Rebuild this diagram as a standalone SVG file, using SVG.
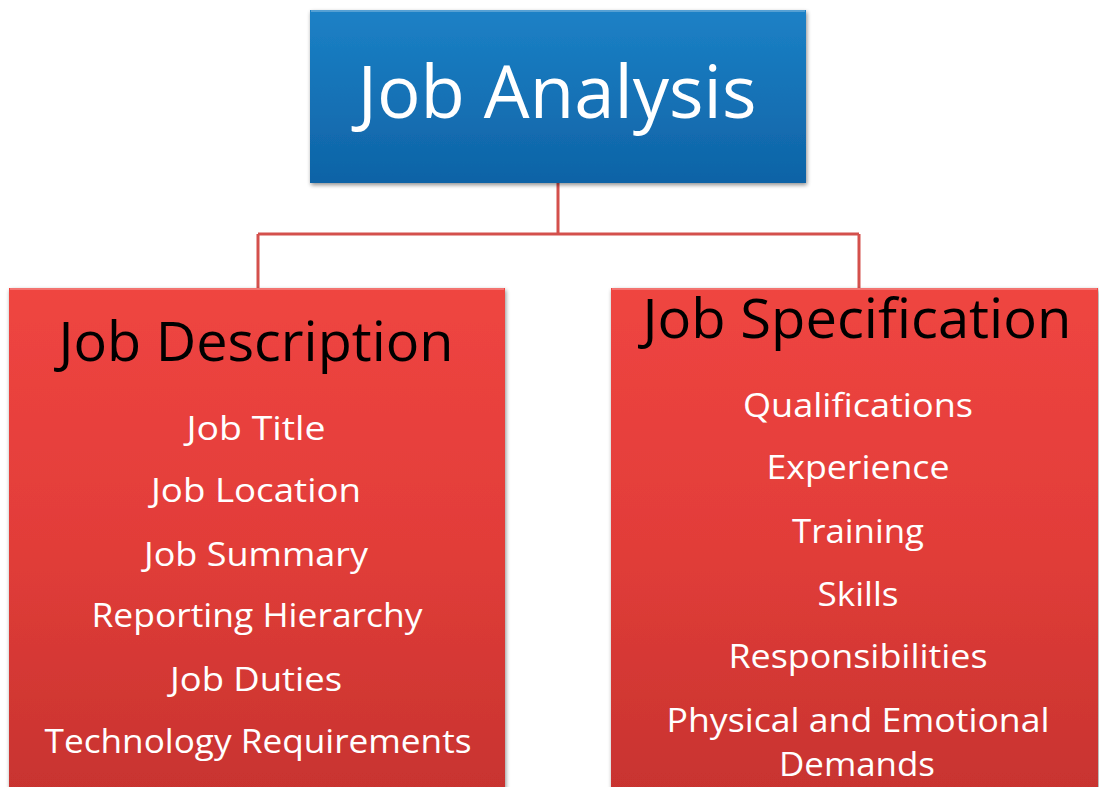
<svg xmlns="http://www.w3.org/2000/svg" width="1099" height="787" viewBox="0 0 1099 787">
<defs>
<linearGradient id="gBlue" x1="0" y1="0" x2="0" y2="1">
<stop offset="0" stop-color="#1c81c6"/>
<stop offset="1" stop-color="#0e63a6"/>
</linearGradient>
<linearGradient id="gRed" x1="0" y1="0" x2="0" y2="1">
<stop offset="0" stop-color="#ef4541"/>
<stop offset="0.5" stop-color="#e23d39"/>
<stop offset="1" stop-color="#c7332f"/>
</linearGradient>
<filter id="shadow" x="-5%" y="-5%" width="110%" height="115%">
<feGaussianBlur in="SourceAlpha" stdDeviation="2"/>
<feOffset dx="1" dy="2" result="b"/>
<feComponentTransfer><feFuncA type="linear" slope="0.45"/></feComponentTransfer>
<feMerge><feMergeNode/><feMergeNode in="SourceGraphic"/></feMerge>
</filter>
</defs>
<style>
text{font-family:"Open Sans","Noto Sans","Liberation Sans",sans-serif;text-anchor:middle}
.title{fill:#ffffff;font-size:74px}
.head{fill:#000000;font-size:54px}
.item{fill:#ffffff;font-size:33px}
.conn{fill:none;stroke:#d4504c;stroke-width:3}
.bevel{fill:none;stroke:#ffffff;stroke-opacity:0.25;stroke-width:2}
</style>
<rect width="1099" height="787" fill="#ffffff"/>
<g id="connectors">
<path class="conn" d="M558 183 V234 M258 234 H859 M258 234 V288 M859 234 V288"/>
</g>
<g id="job-analysis">
<rect x="310" y="10" width="496" height="173" fill="url(#gBlue)" filter="url(#shadow)"/>
<line class="bevel" x1="311" y1="11" x2="805" y2="11"/>
<text class="title" x="557" y="118" textLength="399" lengthAdjust="spacingAndGlyphs">Job Analysis</text>
</g>
<g id="job-description">
<rect x="9" y="288" width="496" height="510" fill="url(#gRed)" filter="url(#shadow)"/>
<line class="bevel" x1="10" y1="289" x2="504" y2="289"/>
<text class="head" x="256" y="361" textLength="395" lengthAdjust="spacingAndGlyphs">Job Description</text>
<text class="item" x="256" y="440" textLength="139" lengthAdjust="spacingAndGlyphs">Job Title</text>
<text class="item" x="256" y="502" textLength="210" lengthAdjust="spacingAndGlyphs">Job Location</text>
<text class="item" x="256" y="566" textLength="224" lengthAdjust="spacingAndGlyphs">Job Summary</text>
<text class="item" x="257" y="627" textLength="331" lengthAdjust="spacingAndGlyphs">Reporting Hierarchy</text>
<text class="item" x="256" y="691" textLength="172" lengthAdjust="spacingAndGlyphs">Job Duties</text>
<text class="item" x="258" y="753" textLength="427" lengthAdjust="spacingAndGlyphs">Technology Requirements</text>
</g>
<g id="job-specification">
<rect x="611" y="288" width="487" height="510" fill="url(#gRed)" filter="url(#shadow)"/>
<line class="bevel" x1="612" y1="289" x2="1097" y2="289"/>
<text class="head" x="857" y="338" textLength="429" lengthAdjust="spacingAndGlyphs">Job Specification</text>
<text class="item" x="858" y="417" textLength="230" lengthAdjust="spacingAndGlyphs">Qualifications</text>
<text class="item" x="858" y="479" textLength="183" lengthAdjust="spacingAndGlyphs">Experience</text>
<text class="item" x="858" y="543" textLength="132" lengthAdjust="spacingAndGlyphs">Training</text>
<text class="item" x="858" y="606" textLength="81" lengthAdjust="spacingAndGlyphs">Skills</text>
<text class="item" x="858" y="668" textLength="259" lengthAdjust="spacingAndGlyphs">Responsibilities</text>
<text class="item" x="858" y="732" textLength="383" lengthAdjust="spacingAndGlyphs">Physical and Emotional</text>
<text class="item" x="857" y="776" textLength="156" lengthAdjust="spacingAndGlyphs">Demands</text>
</g>
</svg>
